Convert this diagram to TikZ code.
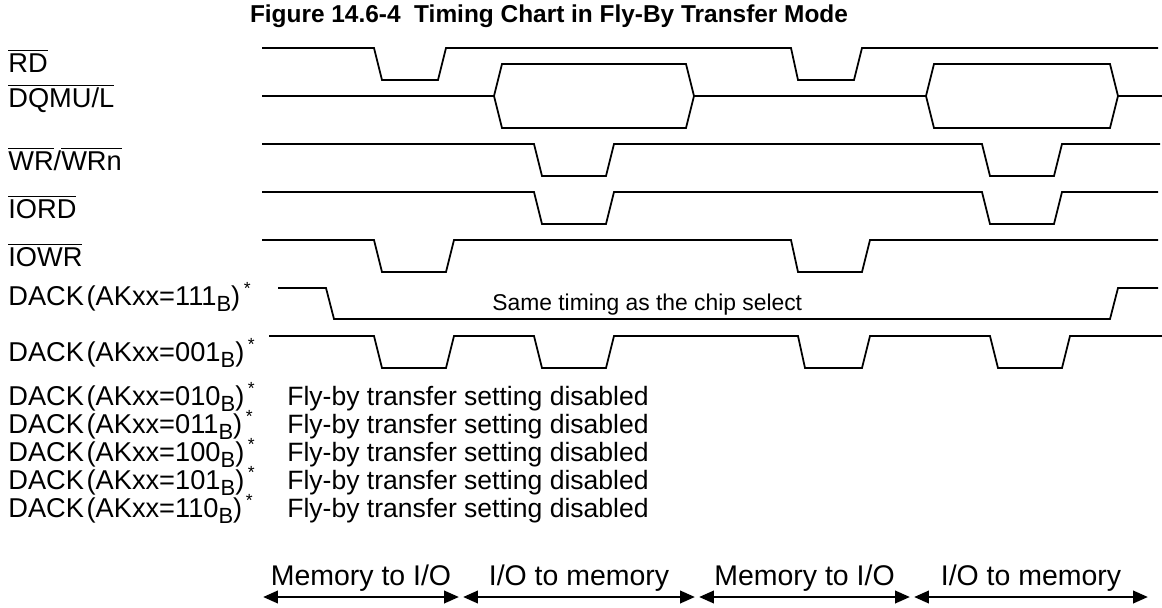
\documentclass[tikz,border=0pt]{standalone}
\usepackage{fontspec}
\setmainfont{Liberation Sans}
\usetikzlibrary{arrows.meta}

\newcommand{\ovl}[1]{$\overline{\mbox{#1}}$}
\newcommand{\dack}[1]{DACK\kern1.5pt(AKxx=#1\raisebox{-3.5pt}{\fontsize{12.5}{13}\selectfont B})\kern2pt\raisebox{6pt}{\fontsize{10}{10}\selectfont *}}

\begin{document}
\begin{tikzpicture}[
    x=0.02cm, y=-0.02cm,
    font=\fontsize{15.5}{18}\selectfont,
    sig/.style={line width=1pt, line join=miter},
    lbl/.style={anchor=base west, inner sep=0pt},
    off/.style={anchor=base west, inner sep=0pt, font=\fontsize{15.1}{18}\selectfont},
    note/.style={anchor=base west, inner sep=0pt, font=\fontsize{13}{15}\selectfont},
    dir/.style={anchor=base, inner sep=0pt, font=\fontsize{16.2}{19}\selectfont},
    span/.style={{Triangle[length=8.5pt,width=7pt]}-{Triangle[length=8.5pt,width=7pt]}, line width=1.6pt}
]
\useasboundingbox (0,0) rectangle (1162,608);

% === TITLE ===
\node[anchor=base, inner sep=0pt, font=\fontsize{13.9}{16}\selectfont\bfseries] (title) at (549,23) {Figure 14.6-4\ \ Timing Chart in Fly-By Transfer Mode};

% === SIGNAL NAMES ===
\node[lbl] (lrd) at (8,72) {\ovl{RD}};
\node[lbl] (ldqm) at (8,108) {\ovl{DQMU/L}};
\node[lbl] (lwr) at (8,170) {\ovl{WR}/\ovl{WRn}};
\node[lbl] (liord) at (8,218) {\ovl{IORD}};
\node[lbl] (liowr) at (8,266) {\ovl{IOWR}};
\node[lbl] (lak111) at (8,305) {\dack{111}};
\node[lbl] (lak001) at (8,361) {\dack{001}};

% disabled settings
\foreach \v [count=\i from 0] in {010,011,100,101,110} {
    \node[lbl] (lak\v) at (8,405+28*\i) {\dack{\v}};
    \node[off] (off\v) at (287,405+28*\i) {Fly-by transfer setting disabled};
}

% === WAVEFORMS ===
% RD
\draw[sig] (262,48) -- (374,48) -- (382,80) -- (438,80) -- (446,48) -- (791,48) -- (798,80) -- (854,80) -- (862,48) -- (1158,48);

% DQMU/L
\draw[sig] (262,96) -- (494,96);
\draw[sig] (494,96) -- (502,64) -- (686,64) -- (694,96) -- (686,128) -- (502,128) -- cycle;
\draw[sig] (694,96) -- (926,96);
\draw[sig] (926,96) -- (934,64) -- (1110,64) -- (1118,96) -- (1110,128) -- (934,128) -- cycle;
\draw[sig] (1118,96) -- (1162,96);

% WR/WRn
\draw[sig] (262,144) -- (534,144) -- (542,176) -- (606,176) -- (614,144) -- (982,144) -- (990,176) -- (1054,176) -- (1062,144) -- (1160,144);

% IORD
\draw[sig] (262,192) -- (534,192) -- (542,224) -- (606,224) -- (614,192) -- (982,192) -- (990,224) -- (1054,224) -- (1062,192) -- (1158,192);

% IOWR
\draw[sig] (262,240) -- (374,240) -- (382,272) -- (446,272) -- (454,240) -- (791,240) -- (798,272) -- (862,272) -- (870,240) -- (1158,240);

% DACK 111
\draw[sig] (278,288) -- (326,288) -- (334,319) -- (1110,319) -- (1118,288) -- (1158,288);
\node[note] (same) at (492,310) {Same timing as the chip select};

% DACK 001
\draw[sig] (269,336) -- (374,336) -- (382,368) -- (446,368) -- (454,336) -- (534,336) -- (542,368) -- (606,368) -- (614,336) -- (798,336) -- (805,368) -- (862,368) -- (870,336) -- (990,336) -- (998,368) -- (1062,368) -- (1070,336) -- (1162,336);

% === TRANSFER DIRECTIONS ===
\coordinate (a0) at (263,597);
\coordinate (a1) at (459,597);
\coordinate (a2) at (463,597);
\coordinate (a3) at (695,597);
\coordinate (a4) at (699,597);
\coordinate (a5) at (910,597);
\coordinate (a6) at (914,597);
\coordinate (a7) at (1148,597);

\draw[span] (a0) -- node[dir, above=2.5pt] (m2io1) {Memory to I/O} (a1);
\draw[span] (a2) -- node[dir, above=2.5pt] (io2m1) {I/O to memory} (a3);
\draw[span] (a4) -- node[dir, above=2.5pt] (m2io2) {Memory to I/O} (a5);
\draw[span] (a6) -- node[dir, above=2.5pt] (io2m2) {I/O to memory} (a7);

\end{tikzpicture}
\end{document}
